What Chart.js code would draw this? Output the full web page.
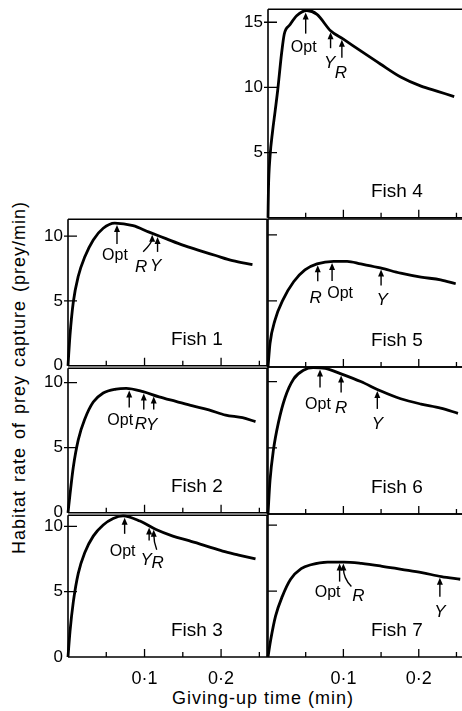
<!DOCTYPE html>
<html>
<head>
<meta charset="utf-8">
<script src="https://cdn.jsdelivr.net/npm/chart.js@4.4.0/dist/chart.umd.min.js"></script>
<style>
  body { margin: 0; width: 462px; height: 711px; overflow: hidden; background: #fff;
         font-family: "Liberation Sans", Arial, sans-serif; color: #000; }
  .panel { position: absolute; }
  #ytitle { position: absolute; left: -161px; top: 367px; width: 360px; text-align: center;
            font-size: 18px; letter-spacing: 1px; word-spacing: 2px; transform: rotate(-90deg); }
  #xtitle { position: absolute; left: 113px; top: 688px; width: 300px; text-align: center;
            font-size: 18px; letter-spacing: 1px; }
</style>
</head>
<body>
<div id="ytitle">Habitat rate of prey capture (prey/min)</div>
<div id="xtitle">Giving-up time (min)</div>
<script>
// Gain-rate curves (time in min, rate in prey/min)
const fish1Time = [0, 0.0026, 0.0069, 0.0134, 0.022, 0.033, 0.046, 0.061, 0.085, 0.106, 0.128, 0.150, 0.171, 0.193, 0.215, 0.241];
const fish1Rate = [0, 2.35, 4.9, 6.9, 8.4, 9.7, 10.6, 11.0, 10.8, 10.3, 9.8, 9.3, 8.9, 8.5, 8.1, 7.8];

const fish2Time = [0, 0.0026, 0.0069, 0.0134, 0.022, 0.033, 0.046, 0.063, 0.076, 0.098, 0.119, 0.141, 0.163, 0.184, 0.206, 0.228, 0.245];
const fish2Rate = [0, 1.4, 3.5, 5.6, 7.2, 8.5, 9.2, 9.5, 9.55, 9.3, 8.9, 8.55, 8.2, 7.9, 7.5, 7.3, 7.0];

const fish3Time = [0, 0.0026, 0.0069, 0.0134, 0.022, 0.033, 0.046, 0.059, 0.072, 0.094, 0.115, 0.137, 0.158, 0.180, 0.202, 0.223, 0.245];
const fish3Rate = [0, 1.95, 4.2, 6.4, 8.0, 9.25, 10.1, 10.6, 10.8, 10.4, 9.75, 9.25, 8.9, 8.5, 8.1, 7.8, 7.5];

const fish4Time = [0, 0.0006, 0.0027, 0.006, 0.0095, 0.0129, 0.018, 0.0216, 0.029, 0.038, 0.0516, 0.065, 0.083, 0.100, 0.123, 0.149, 0.176, 0.203, 0.225, 0.247];
const fish4Rate = [0, 2.2, 4.7, 6.6, 8.2, 9.8, 12.6, 14.1, 14.8, 15.5, 15.9, 15.6, 14.35, 13.7, 12.8, 11.8, 10.8, 10.1, 9.7, 9.3];

const fish5Time = [0, 0.0027, 0.0093, 0.020, 0.034, 0.049, 0.065, 0.087, 0.105, 0.123, 0.149, 0.176, 0.203, 0.229, 0.249];
const fish5Rate = [0, 1.8, 3.55, 5.1, 6.45, 7.35, 7.8, 8.0, 8.0, 7.8, 7.5, 7.1, 6.8, 6.6, 6.3];

const fish6Time = [0, 0.0027, 0.0071, 0.0138, 0.0227, 0.034, 0.047, 0.060, 0.076, 0.096, 0.123, 0.149, 0.176, 0.203, 0.229, 0.252];
const fish6Rate = [0, 2.55, 4.8, 6.9, 8.8, 10.2, 10.85, 11.05, 11.0, 10.6, 10.0, 9.3, 8.7, 8.3, 8.0, 7.6];

const fish7Time = [0, 0.0036, 0.010, 0.019, 0.030, 0.044, 0.057, 0.079, 0.101, 0.124, 0.150, 0.177, 0.204, 0.230, 0.255];
const fish7Rate = [0, 1.3, 3.1, 4.6, 5.9, 6.7, 7.0, 7.2, 7.2, 7.1, 6.9, 6.65, 6.4, 6.1, 5.9];

// Giving-up times marked with arrows (optimal, R and Y)
const fish1Marks = ['Opt', 'R', 'Y'];
const fish1MarkTimes = [0.064, 0.110, 0.117];
const fish2Marks = ['Opt', 'R', 'Y'];
const fish2MarkTimes = [0.080, 0.099, 0.112];
const fish3Marks = ['Opt', 'Y', 'R'];
const fish3MarkTimes = [0.074, 0.106, 0.112];
const fish4Marks = ['Opt', 'Y', 'R'];
const fish4MarkTimes = [0.050, 0.083, 0.098];
const fish5Marks = ['R', 'Opt', 'Y'];
const fish5MarkTimes = [0.066, 0.085, 0.150];
const fish6Marks = ['Opt', 'R', 'Y'];
const fish6MarkTimes = [0.069, 0.097, 0.145];
const fish7Marks = ['Opt', 'R', 'Y'];
const fish7MarkTimes = [0.095, 0.100, 0.228];

// tick labels
const xTickValues = [0.1, 0.2];
const xTickText = ['0·1', '0·2'];

const FONT = '"Liberation Sans", Arial, sans-serif';
Chart.defaults.font.family = FONT;
Chart.defaults.color = '#000';

// box = [left, top, right, bottom] of the plot frame in page pixels
const panels = [
  { name: 'Fish 1', time: fish1Time, rate: fish1Rate, marks: fish1Marks, markTimes: fish1MarkTimes,
    box: [68, 218, 267, 367], yMax: 11.3, yLabels: true, xLabels: false, rightBorder: true, padL: 40,
    styles: [{len: 19, dx: -2, dy: 16}, {len: 17, tailDx: -9, ctrl: 8, dx: -2, dy: 20}, {len: 15, dx: -2, dy: 19}] },
  { name: 'Fish 2', time: fish2Time, rate: fish2Rate, marks: fish2Marks, markTimes: fish2MarkTimes,
    box: [68, 367, 267, 514], yMax: 11.1, yLabels: true, xLabels: false, rightBorder: true, padL: 40,
    styles: [{len: 17, dx: -9, dy: 18}, {len: 16, dx: -3, dy: 20}, {len: 13, dx: -2, dy: 20}] },
  { name: 'Fish 3', time: fish3Time, rate: fish3Rate, marks: fish3Marks, markTimes: fish3MarkTimes,
    box: [68, 514, 267, 657], yMax: 10.85, yLabels: true, xLabels: true, rightBorder: true, padL: 40,
    styles: [{len: 16, dx: -2, dy: 22}, {len: 13, dx: -3, dy: 25}, {len: 20, tailDx: 3, ctrl: 12, dx: 1, dy: 18}] },
  { name: 'Fish 4', time: fish4Time, rate: fish4Rate, marks: fish4Marks, markTimes: fish4MarkTimes,
    box: [268, 8, 464, 219], yMax: 16, yLabels: true, hideZero: true, xLabels: false, rightBorder: false, padL: 42,
    styles: [{len: 21, dx: -2, dy: 18}, {len: 16, dx: -1, dy: 20}, {len: 18, dx: -1, dy: 20}] },
  { name: 'Fish 5', time: fish5Time, rate: fish5Rate, marks: fish5Marks, markTimes: fish5MarkTimes,
    box: [268, 219, 464, 367], yMax: 11.2, yLabels: false, xLabels: false, rightBorder: false, padL: 16,
    styles: [{len: 16, dx: -2, dy: 22}, {len: 18, dx: 8, dy: 17}, {len: 16, dx: 1, dy: 19}] },
  { name: 'Fish 6', time: fish6Time, rate: fish6Rate, marks: fish6Marks, markTimes: fish6MarkTimes,
    box: [268, 367, 464, 514], yMax: 11.1, yLabels: false, xLabels: false, rightBorder: false, padL: 16,
    styles: [{len: 18, dx: -2, dy: 21}, {len: 17, dx: 0, dy: 21}, {len: 18, dx: 0, dy: 20}] },
  { name: 'Fish 7', time: fish7Time, rate: fish7Rate, marks: fish7Marks, markTimes: fish7MarkTimes,
    box: [268, 514, 464, 657], yMax: 10.85, yLabels: false, xLabels: true, rightBorder: false, padL: 16,
    styles: [{len: 18, dx: -12, dy: 15}, {len: 23, tailDx: 8, ctrl: 15, dx: 7, dy: 14}, {len: 19, dx: 0, dy: 20}] }
];

function interp(xs, ys, v) {
  for (let i = 1; i < xs.length; i++) {
    if (v <= xs[i]) {
      const t = (v - xs[i - 1]) / (xs[i] - xs[i - 1]);
      return ys[i - 1] + t * (ys[i] - ys[i - 1]);
    }
  }
  return ys[ys.length - 1];
}

function framePlugin(p) {
  return {
    id: 'frame',
    afterDatasetsDraw(chart) {
      const ctx = chart.ctx;
      const a = chart.chartArea;
      const xs = chart.scales.x, ys = chart.scales.y;
      ctx.save();
      ctx.strokeStyle = '#000';
      ctx.fillStyle = '#000';
      // frame
      ctx.lineWidth = 1.6;
      ctx.beginPath();
      ctx.moveTo(a.left, a.bottom); ctx.lineTo(a.left, a.top);
      ctx.moveTo(a.left, a.top); ctx.lineTo(a.right + 1, a.top);
      ctx.moveTo(a.left, a.bottom); ctx.lineTo(a.right + 1, a.bottom);
      if (p.rightBorder) { ctx.moveTo(a.right, a.top); ctx.lineTo(a.right, a.bottom); }
      ctx.stroke();
      // inward ticks
      ctx.lineWidth = 1.3;
      ctx.beginPath();
      ys.ticks.forEach(t => {
        if (t.value <= 0) return;
        const py = ys.getPixelForValue(t.value);
        ctx.moveTo(a.left - (p.yLabels ? 4 : 0), py); ctx.lineTo(a.left + 9, py);
      });
      xs.ticks.forEach(t => {
        if (t.value <= 0) return;
        const px = xs.getPixelForValue(t.value);
        const major = Math.abs(t.value * 10 - Math.round(t.value * 10)) < 1e-6;
        ctx.moveTo(px, a.bottom); ctx.lineTo(px, a.bottom - (major ? 8 : 5));
      });
      ctx.stroke();
      // arrows and labels
      p.marks.forEach((label, i) => {
        const s = p.styles[i];
        const px = xs.getPixelForValue(p.markTimes[i]);
        const tipY = ys.getPixelForValue(interp(p.time, p.rate, p.markTimes[i])) + 1.5;
        const tx = px + (s.tailDx || 0), ty = tipY + s.len;
        let cx = tx, cy = ty;
        ctx.lineWidth = 1.4;
        ctx.beginPath();
        ctx.moveTo(tx, ty);
        if (s.ctrl) { cx = px; cy = tipY + s.ctrl; ctx.quadraticCurveTo(cx, cy, px, tipY + 4); }
        else ctx.lineTo(px, tipY + 4);
        ctx.stroke();
        const ang = Math.atan2(tipY - cy, px - cx);
        ctx.beginPath();
        ctx.moveTo(px, tipY);
        ctx.lineTo(px - 7 * Math.cos(ang) + 3 * Math.sin(ang), tipY - 7 * Math.sin(ang) - 3 * Math.cos(ang));
        ctx.lineTo(px - 7 * Math.cos(ang) - 3 * Math.sin(ang), tipY - 7 * Math.sin(ang) + 3 * Math.cos(ang));
        ctx.closePath();
        ctx.fill();
        ctx.font = label === 'Opt' ? '16px ' + FONT : 'italic 17px ' + FONT;
        ctx.textAlign = 'center';
        ctx.textBaseline = 'alphabetic';
        ctx.fillText(label, tx + s.dx, ty + s.dy);
      });
      // panel name
      ctx.font = '19px ' + FONT;
      ctx.textAlign = 'left';
      ctx.fillText(p.name, a.left + 103, a.bottom - 21);
      ctx.restore();
    }
  };
}

panels.forEach(p => {
  const [left, top, right, bottom] = p.box;
  const padT = 14, padR = 16, padB = p.xLabels ? 44 : 14;
  const div = document.createElement('div');
  div.className = 'panel';
  div.style.left = (left - p.padL) + 'px';
  div.style.top = (top - padT) + 'px';
  div.style.width = (p.padL + right - left + padR) + 'px';
  div.style.height = (padT + bottom - top + padB) + 'px';
  const canvas = document.createElement('canvas');
  div.appendChild(canvas);
  document.body.appendChild(div);

  new Chart(canvas, {
    type: 'line',
    data: {
      datasets: [{
        data: p.time.map((t, i) => ({x: t, y: p.rate[i]})),
        borderColor: '#000',
        borderWidth: 2.8,
        pointRadius: 0,
        cubicInterpolationMode: 'monotone',
        fill: false,
        clip: 4
      }]
    },
    options: {
      responsive: true,
      maintainAspectRatio: false,
      animation: false,
      events: [],
      devicePixelRatio: 1,
      layout: { padding: { left: 0, top: padT, right: padR, bottom: 0 } },
      plugins: { legend: { display: false }, tooltip: { enabled: false } },
      scales: {
        x: {
          type: 'linear', min: 0, max: 0.26,
          grid: { display: false, drawTicks: false },
          border: { display: false },
          afterFit: s => { s.height = padB; },
          ticks: {
            display: p.xLabels, stepSize: 0.05, includeBounds: false, autoSkip: false,
            maxRotation: 0, padding: 11, font: { size: 18 },
            callback: v => {
              const k = xTickValues.findIndex(t => Math.abs(t - v) < 1e-6);
              return k >= 0 ? xTickText[k] : '';
            }
          }
        },
        y: {
          type: 'linear', min: 0, max: p.yMax,
          grid: { display: false, drawTicks: false },
          border: { display: false },
          afterFit: s => { s.width = p.padL; },
          ticks: {
            display: p.yLabels, stepSize: 5, includeBounds: false, padding: 5, font: { size: 17 },
            callback: v => (p.hideZero && v === 0) ? '' : String(v)
          }
        }
      }
    },
    plugins: [framePlugin(p)]
  });
});
</script>
</body>
</html>
